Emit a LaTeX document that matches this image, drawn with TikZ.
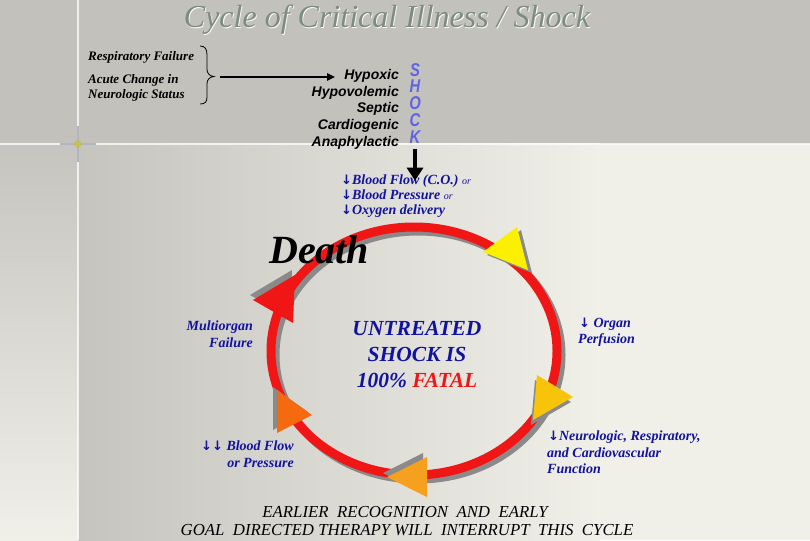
\documentclass[tikz,border=0pt]{standalone}
\usepackage{fontspec}
\setmainfont{Liberation Serif}
\newfontfamily\arialf{Liberation Sans}
\newfontfamily\dejavuf{DejaVu Sans}
\usetikzlibrary{arrows.meta,calc}
\definecolor{bandgray}{RGB}{194,193,188}
\definecolor{panelgray}{RGB}{197,196,190}
\definecolor{panellight}{RGB}{240,239,232}
\definecolor{dblue}{RGB}{18,18,160}
\definecolor{shockblue}{RGB}{95,100,228}
\definecolor{titlec}{RGB}{125,139,130}
\definecolor{ringred}{RGB}{240,22,22}
\definecolor{shadowg}{RGB}{138,138,138}
\definecolor{triyellow}{RGB}{250,240,0}
\definecolor{trigold}{RGB}{248,196,10}
\definecolor{triorange}{RGB}{245,160,30}
\definecolor{triorred}{RGB}{245,105,15}
\definecolor{trired}{RGB}{240,22,22}
\tikzset{
  lefttxt/.style={inner sep=0pt, font=\fontsize{13}{15}\selectfont\bfseries\itshape},
  typetxt/.style={inner sep=0pt, anchor=base east, font=\arialf\fontsize{14}{16}\selectfont\bfseries\itshape},
  bluetxt/.style={inner sep=0pt, text=dblue, font=\fontsize{14}{16}\selectfont\bfseries\itshape},
  centertxt/.style={inner sep=0pt, anchor=base, text=dblue, font=\fontsize{21.5}{26}\selectfont\bfseries\itshape},
  bottomtxt/.style={inner sep=0pt, anchor=base, font=\fontsize{16.8}{18}\selectfont\itshape},
  trishadow/.style={fill=shadowg}
}
\newcommand{\smallor}{{\mdseries\fontsize{10}{12}\selectfont or}}
\newcommand{\darr}{{\dejavuf\bfseries\itshape\fontsize{13}{14}\selectfont ↓}}
\begin{document}
\begin{tikzpicture}[x=1pt,y=-1pt]
\useasboundingbox (0,0) rectangle (810,540);
% background
\fill[bandgray] (0,0) rectangle (810,144);
\shade[left color=panelgray, right color=panellight] (78,144) rectangle (600,540);
\fill[panellight] (600,144) rectangle (810,540);
\shade[top color=panelgray, bottom color=panellight] (0,144) rectangle (78,540);
\draw[white, opacity=0.75, line width=2] (78,0) -- (78,540);
\draw[white, opacity=0.75, line width=2] (0,144) -- (810,144);
\draw[line width=2, color={rgb,255:red,180;green,180;blue,192}] (60,144) -- (96,144);
\draw[line width=2, color={rgb,255:red,180;green,180;blue,192}] (78,126) -- (78,162);
\fill[yellow!55!olive, opacity=0.45] (78,144) circle (4);
\fill[yellow!70!olive, opacity=0.8] (78,144) circle (1.6);

% title
\node[inner sep=0pt, anchor=base, text=white, font=\fontsize{32}{34}\selectfont\itshape] (titleshadow) at (387.8,28.8) {Cycle of Critical Illness / Shock};
\node[inner sep=0pt, anchor=base, text=titlec, font=\fontsize{32}{34}\selectfont\itshape] (title) at (387,28) {Cycle of Critical Illness / Shock};

% left causes
\node[lefttxt, anchor=base west] (resp) at (88,61) {Respiratory Failure};
\node[lefttxt, anchor=base west] (acute) at (88,84) {Acute Change in};
\node[lefttxt, anchor=base west] (neuro) at (88,99) {Neurologic Status};
\draw[line width=0.8] (200,46) .. controls (205,46) and (207,49) .. (207,55) -- (207,69)
  .. controls (207,73) and (209,76) .. (214,76.5)
  .. controls (209,77) and (207,80) .. (207,84) -- (207,97)
  .. controls (207,102) and (205,104) .. (200,104);
\coordinate (bracetip) at (220,77);

% shock types
\node[typetxt] (hypoxic) at (399,80) {Hypoxic};
\node[typetxt] (hypovol) at (399,97) {Hypovolemic};
\node[typetxt] (septic) at (399,113) {Septic};
\node[typetxt] (cardio) at (399,130) {Cardiogenic};
\node[typetxt] (anaph) at (399,147) {Anaphylactic};
\draw[line width=2, -{Triangle[width=7pt,length=8pt]}, shorten >=9pt] (bracetip) -- (bracetip -| hypoxic.west);

\node[inner sep=0pt, anchor=north, align=center, text=shockblue,
  font=\arialf\fontsize{18.5}{16.8}\selectfont\bfseries\itshape] (shock) at (415,63)
  {\scalebox{0.8}[1]{S}\\\scalebox{0.8}[1]{H}\\\scalebox{0.8}[1]{O}\\\scalebox{0.8}[1]{C}\\\scalebox{0.8}[1]{K}};

% consequences
\node[bluetxt, anchor=base west] (bf1) at (341,184) {\darr Blood Flow (C.O.) \smallor};
\node[bluetxt, anchor=base west] (bp1) at (341,199) {\darr Blood Pressure \smallor};
\node[bluetxt, anchor=base west] (ox1) at (341,214) {\darr Oxygen delivery};
\draw[line width=4.5, -{Triangle[width=16pt,length=13pt]}] (415,149) -- (shock.south |- bf1.center);

% ring
\draw[shadowg, line width=9] (418,355) ellipse [x radius=143pt, y radius=124pt];
\draw[ringred, line width=9] (414,351) ellipse [x radius=143pt, y radius=124pt];

% triangles with shadows
\fill[trishadow, shift={(4,3)}] (483,252) -- (517,227) -- (528,270) -- cycle;
\fill[triyellow] (483,252) -- (517,227) -- (528,270) -- cycle;
\fill[trishadow, shift={(-2,5)}] (537,375) -- (573,397) -- (533,420) -- cycle;
\fill[trigold] (537,375) -- (573,397) -- (533,420) -- cycle;
\fill[trishadow, shift={(-4,-4)}] (387,477) -- (427,457) -- (427,497) -- cycle;
\fill[triorange] (387,477) -- (427,457) -- (427,497) -- cycle;
\fill[trishadow, shift={(-4,-3)}] (277,390) -- (312,415) -- (277,433) -- cycle;
\fill[triorred] (277,390) -- (312,415) -- (277,433) -- cycle;
\fill[trishadow, shift={(-3,-5)}] (253,300) -- (295,275) -- (293,323) -- cycle;
\fill[trired] (253,300) -- (295,275) -- (293,323) -- cycle;

% death
\node[inner sep=0pt, anchor=base west, font=\fontsize{40}{42}\selectfont\bfseries\itshape] (death) at (269,263) {Death};

% center
\node[centertxt] (untreated) at (417,335) {UNTREATED};
\node[centertxt] (shockis) at (417,361) {SHOCK IS};
\node[centertxt] (fatal) at (417,387) {100\% \textcolor{ringred}{FATAL}};

% stage labels
\node[bluetxt, anchor=base east] (multi1) at (253,330) {Multiorgan};
\node[bluetxt, anchor=base east] (multi2) at (253,347) {Failure};
\node[bluetxt, anchor=base east] (bfp1) at (294,450) {\darr\darr\ Blood Flow};
\node[bluetxt, anchor=base east] (bfp2) at (294,467) {or Pressure};
\node[bluetxt, anchor=base west] (org1) at (579,327) {\darr\ Organ};
\node[bluetxt, anchor=base west] (org2) at (578,343) {Perfusion};
\node[bluetxt, anchor=base west] (nrf1) at (548,440) {\darr Neurologic, Respiratory,};
\node[bluetxt, anchor=base west] (nrf2) at (547,457) {and Cardiovascular};
\node[bluetxt, anchor=base west] (nrf3) at (547,473) {Function};

% bottom
\node[bottomtxt] (bot1) at (405,517) {EARLIER\ \ RECOGNITION\ \ AND\ \ EARLY};
\node[bottomtxt] (bot2) at (407,535) {GOAL\ \ DIRECTED THERAPY WILL\ \ INTERRUPT\ \ THIS\ \ CYCLE};
\end{tikzpicture}
\end{document}
